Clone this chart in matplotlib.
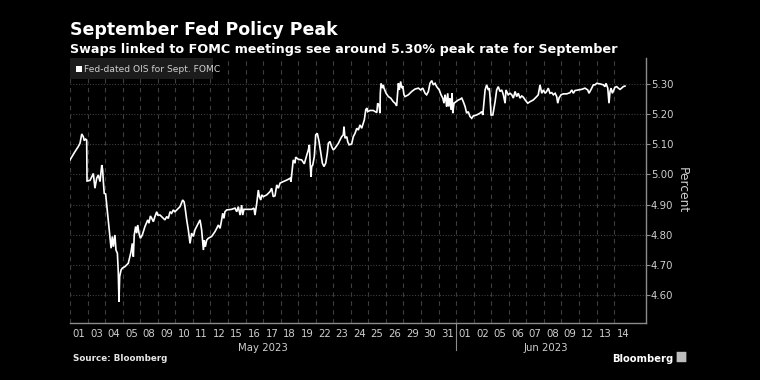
import matplotlib
matplotlib.use("Agg")
import matplotlib.pyplot as plt
from matplotlib.patches import Rectangle, FancyBboxPatch
import matplotlib.transforms as mtransforms

# ---------------- data ----------------
day_labels = ["01", "03", "04", "05", "08", "09", "10", "11", "12", "15", "16",
              "17", "18", "19", "22", "23", "24", "25", "26", "29", "30", "31",
              "01", "02", "05", "06", "07", "08", "09", "12", "13", "14"]
month_labels = ["May 2023", "Jun 2023"]
month_start_idx = [0, 22]

# time in trading-day units (day index + fraction of the session)
t = [0.00, 0.28, 0.47, 0.57, 0.67, 0.76, 0.81, 0.89, 0.95, 0.97,
     1.14, 1.33, 1.42, 1.52, 1.61, 1.71, 1.81, 1.86, 1.90, 1.95,
     2.03, 2.34, 2.41, 2.47, 2.56, 2.62, 2.70, 2.75, 2.79, 2.83, 2.91, 2.98,
     3.13, 3.32, 3.48, 3.55, 3.61, 3.66, 3.74, 3.80, 3.86, 3.93,
     4.01, 4.12, 4.27, 4.43, 4.50, 4.58, 4.66, 4.75, 4.84, 4.94, 5.00,
     5.13, 5.32, 5.41, 5.51, 5.60, 5.70, 5.79, 5.89, 5.98,
     6.08, 6.27, 6.42, 6.50, 6.55, 6.65, 6.74, 6.84, 6.93,
     7.03, 7.12, 7.31, 7.41, 7.50, 7.60, 7.65, 7.71, 7.79, 7.88,
     8.07, 8.26, 8.36, 8.45, 8.55, 8.64, 8.70, 8.77, 8.83, 8.93,
     9.21, 9.40, 9.50, 9.59, 9.69, 9.78, 9.84, 9.91,
     10.35, 10.48, 10.54, 10.64, 10.73, 10.79, 10.87, 10.92,
     11.01, 11.21, 11.40, 11.49, 11.58, 11.68, 11.78, 11.87, 11.97,
     12.15, 12.35, 12.54, 12.59, 12.67, 12.72, 12.82, 12.86,
     13.01, 13.20, 13.35, 13.49, 13.58, 13.64, 13.68, 13.73, 13.77, 13.83, 13.92,
     14.00, 14.09, 14.19, 14.28, 14.38, 14.47, 14.57, 14.66, 14.72, 14.81, 14.91,
     15.00, 15.10, 15.29, 15.38, 15.48, 15.57, 15.61, 15.67, 15.77, 15.82, 15.90,
     16.05, 16.14, 16.24, 16.34, 16.43, 16.52, 16.62, 16.71, 16.77, 16.85, 16.91, 16.96,
     17.09, 17.28, 17.48, 17.53, 17.61, 17.66, 17.68, 17.72, 17.80, 17.85, 17.89,
     18.01, 18.14, 18.27, 18.42, 18.52, 18.61, 18.71, 18.76, 18.84, 18.90, 18.96,
     19.03, 19.09, 19.28, 19.47, 19.66, 19.85, 19.98,
     20.10, 20.23, 20.32, 20.42, 20.51, 20.61, 20.70, 20.80, 20.89,
     21.04, 21.14, 21.24, 21.31, 21.37, 21.42, 21.46, 21.52, 21.58, 21.65, 21.71, 21.77, 21.81, 21.88, 21.99,
     22.13, 22.22, 22.32, 22.41, 22.51, 22.60, 22.69, 22.79, 22.89, 22.98,
     23.17, 23.36, 23.46, 23.52, 23.59, 23.65, 23.74, 23.83, 23.89, 23.93, 23.99,
     24.09, 24.22, 24.31, 24.40, 24.50, 24.60, 24.69, 24.79, 24.84, 24.97,
     25.07, 25.17, 25.26, 25.36, 25.45, 25.54, 25.64, 25.74, 25.83, 25.93,
     26.08, 26.21, 26.40, 26.59, 26.68, 26.78, 26.88, 26.97,
     27.07, 27.16, 27.25, 27.35, 27.45, 27.54, 27.64, 27.73, 27.79, 27.86, 27.98,
     28.11, 28.30, 28.49, 28.59, 28.68, 28.77, 28.96,
     29.16, 29.34, 29.50, 29.57, 29.69, 29.82, 29.91,
     30.01, 30.20, 30.39, 30.48, 30.54, 30.64, 30.71, 30.77, 30.83, 30.90, 30.98,
     31.05, 31.15, 31.24, 31.34, 31.43, 31.52, 31.62]

ois_rate = [5.048, 5.075, 5.092, 5.103, 5.134, 5.125, 5.112, 5.117, 5.114, 4.978,
            4.980, 5.003, 4.954, 4.987, 4.998, 4.976, 5.031, 5.015, 4.976, 4.937,
            4.935, 4.755, 4.794, 4.760, 4.799, 4.749, 4.738, 4.677, 4.578, 4.661, 4.683, 4.689,
            4.694, 4.705, 4.744, 4.771, 4.727, 4.799, 4.827, 4.805, 4.832, 4.805,
            4.788, 4.799, 4.827, 4.849, 4.838, 4.862, 4.854, 4.843, 4.860, 4.876, 4.865,
            4.865, 4.854, 4.849, 4.860, 4.854, 4.876, 4.871, 4.882, 4.876,
            4.882, 4.893, 4.915, 4.909, 4.893, 4.849, 4.816, 4.771, 4.805,
            4.794, 4.816, 4.838, 4.849, 4.816, 4.749, 4.782, 4.760, 4.782, 4.788,
            4.794, 4.810, 4.821, 4.832, 4.821, 4.849, 4.871, 4.854, 4.876, 4.882,
            4.884, 4.888, 4.876, 4.893, 4.865, 4.898, 4.865, 4.884,
            4.884, 4.888, 4.865, 4.904, 4.948, 4.926, 4.915, 4.932,
            4.926, 4.932, 4.943, 4.954, 4.926, 4.929, 4.965, 4.954, 4.971,
            4.976, 4.981, 4.987, 4.976, 5.020, 5.048, 5.037, 5.057,
            5.050, 5.048, 5.035, 5.064, 5.081, 5.098, 5.042, 4.992, 5.026, 5.031, 5.059,
            5.131, 5.136, 5.109, 5.075, 5.037, 5.026, 5.037, 5.070, 5.103, 5.109, 5.092,
            5.081, 5.087, 5.103, 5.114, 5.125, 5.131, 5.158, 5.120, 5.125, 5.109, 5.098,
            5.101, 5.125, 5.136, 5.153, 5.147, 5.164, 5.153, 5.170, 5.181, 5.214, 5.220, 5.208,
            5.212, 5.212, 5.205, 5.236, 5.230, 5.203, 5.269, 5.302, 5.286, 5.297, 5.286,
            5.269, 5.258, 5.253, 5.241, 5.236, 5.227, 5.302, 5.280, 5.308, 5.286, 5.293,
            5.264, 5.258, 5.264, 5.275, 5.283, 5.286, 5.280,
            5.286, 5.269, 5.264, 5.275, 5.302, 5.311, 5.297, 5.302, 5.291,
            5.280, 5.264, 5.253, 5.236, 5.264, 5.247, 5.225, 5.269, 5.225, 5.253, 5.214, 5.269, 5.203, 5.236, 5.241,
            5.247, 5.249, 5.253, 5.241, 5.225, 5.203, 5.208, 5.192, 5.186, 5.194,
            5.197, 5.203, 5.208, 5.197, 5.241, 5.280, 5.297, 5.280, 5.286, 5.258, 5.197,
            5.197, 5.241, 5.280, 5.291, 5.275, 5.280, 5.264, 5.236, 5.280, 5.264,
            5.269, 5.264, 5.253, 5.275, 5.258, 5.269, 5.253, 5.260, 5.256, 5.247,
            5.236, 5.241, 5.247, 5.258, 5.264, 5.297, 5.269, 5.280,
            5.269, 5.275, 5.286, 5.269, 5.271, 5.264, 5.269, 5.258, 5.236, 5.253, 5.264,
            5.267, 5.267, 5.271, 5.280, 5.269, 5.278, 5.280,
            5.282, 5.286, 5.280, 5.269, 5.282, 5.297, 5.297,
            5.302, 5.300, 5.297, 5.291, 5.302, 5.286, 5.236, 5.275, 5.286, 5.269, 5.280,
            5.289, 5.291, 5.286, 5.282, 5.286, 5.291, 5.293]

y_ticks = [4.60, 4.70, 4.80, 4.90, 5.00, 5.10, 5.20, 5.30]
series_name = "Fed-dated OIS for Sept. FOMC"
title = "September Fed Policy Peak"
subtitle = "Swaps linked to FOMC meetings see around 5.30% peak rate for September"

# ---------------- style ----------------
BG = "#000000"
FG = "#ffffff"
TICK_C = "#cfcfcf"
GRID_C = "#3e3e3e"
AXIS_C = "#8c8c8c"

W, H = 760, 380
fig = plt.figure(figsize=(W / 100, H / 100), dpi=100, facecolor=BG)
L, R, B, T = 70, 645.5, 323, 58
ax = fig.add_axes([L / W, 1 - B / H, (R - L) / W, (B - T) / H], facecolor=BG)

ax.plot(t, ois_rate, color=FG, lw=1.2, solid_joinstyle="miter")

n_days = len(day_labels)
ax.set_xlim(0, 32.79)
ax.set_ylim(4.507, 5.386)

# gridlines
for k in range(n_days):
    ax.axvline(k, color=GRID_C, lw=0.8, ls=(0, (4, 4)), zorder=0)
for yv in y_ticks:
    ax.axhline(yv, color=GRID_C, lw=0.8, ls=(0, (1, 1.5)), zorder=0)

# spines
for s in ["top", "left"]:
    ax.spines[s].set_visible(False)
for s in ["bottom", "right"]:
    ax.spines[s].set_color(AXIS_C)
    ax.spines[s].set_linewidth(1.0)

# y axis on right
ax.yaxis.tick_right()
ax.yaxis.set_label_position("right")
ax.set_yticks(y_ticks)
ax.set_yticklabels([f"{v:.2f}" for v in y_ticks])
ax.tick_params(axis="y", colors=AXIS_C, labelcolor=TICK_C, labelsize=7.3,
               length=3, width=0.8, pad=1)
ax.set_ylabel("Percent", color=TICK_C, fontsize=8.8, rotation=270,
              labelpad=11)

# x axis: day labels centered in each day slot
ax.set_xticks([k + 0.5 for k in range(n_days)])
ax.set_xticklabels(day_labels)
ax.tick_params(axis="x", length=0, labelcolor=TICK_C, labelsize=7.3, pad=4)

# month labels and separator
trans = mtransforms.blended_transform_factory(ax.transData, ax.transAxes)
month_end = [month_start_idx[1], 32.2]
for lab, s, e in zip(month_labels, month_start_idx, month_end):
    ax.text((s + e) / 2, -0.075, lab, transform=trans, ha="center", va="top",
            color=TICK_C, fontsize=7.3)
ax.plot([month_start_idx[1], month_start_idx[1]], [0, -0.103], transform=trans,
        color=AXIS_C, lw=0.8, clip_on=False)

# legend box
leg_ax_w = (213 - L) / (R - L)
leg_ax_h = (79 - T) / (B - T)
ax.add_patch(Rectangle((0, 1 - leg_ax_h), leg_ax_w, leg_ax_h, transform=ax.transAxes,
                       facecolor="#1c1c1c", edgecolor="none", zorder=3))
ax.add_patch(Rectangle(((76 - L) / (R - L), 1 - (71.5 - T) / (B - T)),
                       5.5 / (R - L), 5.5 / (B - T), transform=ax.transAxes,
                       facecolor=FG, edgecolor="none", zorder=4))
ax.text((84 - L) / (R - L), 1 - (69 - T) / (B - T), series_name,
        transform=ax.transAxes, color=TICK_C, fontsize=6.6, va="center",
        ha="left", zorder=4)

# titles, fitted to measured widths
fig.canvas.draw()
renderer = fig.canvas.get_renderer()


def fit_text(x, y, s, width_px, size, **kw):
    txt = fig.text(x / W, 1 - y / H, s, fontsize=size, **kw)
    w = txt.get_window_extent(renderer=renderer).width
    txt.set_fontsize(size * width_px / w)
    return txt


fit_text(70, 35, title, 268, 13.5, color=FG, weight="bold", ha="left",
         va="baseline")
fit_text(70, 52.5, subtitle, 548, 9.5, color=FG, weight="bold", ha="left",
         va="baseline")
fit_text(73, 361, "Source: Bloomberg", 95, 7, color="#e6e6e6", weight="bold",
         ha="left", va="baseline")
fit_text(612, 362, "Bloomberg", 61, 8.5, color=FG, weight="bold", ha="left",
         va="baseline")
fig.patches.append(FancyBboxPatch((677 / W, 1 - 362 / H), 9 / W, 10 / H,
                                  boxstyle="round,pad=0.0005", transform=fig.transFigure,
                                  facecolor="#bdbdbd", edgecolor="none"))

fig.savefig("out.png", dpi=100, facecolor=BG)
